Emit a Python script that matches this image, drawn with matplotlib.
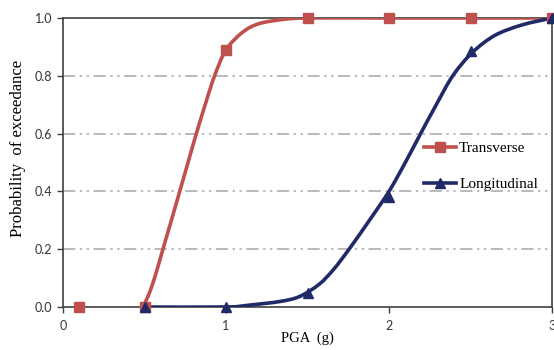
import matplotlib
matplotlib.use("Agg")
import matplotlib.pyplot as plt
from matplotlib.lines import Line2D
from matplotlib.path import Path
from matplotlib.patches import PathPatch

# data points (markers)
trans_x = [0.1, 0.5, 1.0, 1.5, 2.0, 2.5, 3.0]
trans_y = [0.0, 0.0, 0.89, 1.0, 1.0, 1.0, 1.0]
long_x = [0.5, 1.0, 1.5, 2.0, 2.5, 3.0]
long_y = [0.0, 0.0, 0.05, 0.38, 0.885, 1.0]

# fitted curves
trans_cx = [0.49, 0.52, 0.55, 0.58, 0.613, 0.665, 0.716, 0.767, 0.818, 0.875, 0.93, 1.0, 1.1, 1.2, 1.35, 1.5, 2.0, 3.0]
trans_cy = [0.0, 0.035, 0.08, 0.135, 0.2, 0.3, 0.4, 0.5, 0.6, 0.705, 0.8, 0.89, 0.95, 0.98, 0.995, 1.0, 1.0, 1.0]
long_cx = [0.5, 1.0, 1.15, 1.33, 1.45, 1.57, 1.66, 1.755, 1.88, 2.0, 2.1, 2.194, 2.29, 2.391, 2.51, 2.65, 2.816, 3.0]
long_cy = [0.0, 0.0, 0.007, 0.019, 0.036, 0.078, 0.13, 0.2, 0.3, 0.4, 0.5, 0.6, 0.7, 0.8, 0.88, 0.94, 0.976, 1.0]

red = '#C0504D'
navy = '#1F2A66'
serif = 'Liberation Serif'


def smooth_path(xs, ys, k=0.16):
    # bezier path through the points (like a spreadsheet "smoothed line")
    verts = [(xs[0], ys[0])]
    codes = [Path.MOVETO]
    n = len(xs)
    for i in range(n - 1):
        x0, y0 = xs[max(i - 1, 0)], ys[max(i - 1, 0)]
        x1, y1 = xs[i], ys[i]
        x2, y2 = xs[i + 1], ys[i + 1]
        x3, y3 = xs[min(i + 2, n - 1)], ys[min(i + 2, n - 1)]
        c1 = (x1 + (x2 - x0) * k, y1 + (y2 - y0) * k)
        c2 = (x2 - (x3 - x1) * k, y2 - (y3 - y1) * k)
        verts += [c1, c2, (x2, y2)]
        codes += [Path.CURVE4] * 3
    return Path(verts, codes)


fig = plt.figure(figsize=(5.54, 3.5), dpi=100)
ax = fig.add_axes([63/554, 1-307/350, (552-63)/554, (307-18)/350])

ax.add_patch(PathPatch(smooth_path(trans_cx, trans_cy), fc='none', ec=red, lw=2.6,
                       capstyle='round', zorder=3))
ax.add_patch(PathPatch(smooth_path(long_cx, long_cy), fc='none', ec=navy, lw=2.6,
                       capstyle='round', zorder=3))
ax.plot(trans_x, trans_y, ls='none', marker='s', ms=7.5, color=red, zorder=4, clip_on=False)
ax.plot(long_x, long_y, ls='none', marker='^', ms=7.5, color=navy, zorder=4, clip_on=False)

ax.set_xlim(0, 3)
ax.set_ylim(0, 1)
ax.set_xticks([0, 1, 2, 3])
ax.set_yticks([0, 0.2, 0.4, 0.6, 0.8, 1.0])
ax.set_yticklabels(['0.0', '0.2', '0.4', '0.6', '0.8', '1.0'])
for t in ax.get_xticklabels() + ax.get_yticklabels():
    t.set_fontfamily('Lato')
    t.set_fontsize(9)
    t.set_color('#333333')
ax.tick_params(axis='both', direction='out', length=4, width=1, color='#404040')
ax.tick_params(axis='x', pad=5)

for y in [0.2, 0.4, 0.6, 0.8]:
    ax.axhline(y, color='#A6A6A6', lw=1.1, ls=(0, (8, 3, 1.5, 3, 1.5, 3)), zorder=1)
for s in ['left', 'bottom', 'top', 'right']:
    ax.spines[s].set_color('#404040')
    ax.spines[s].set_linewidth(1.2)

ax.set_xlabel('PGA  (g)', family=serif, fontsize=10.5, labelpad=0)
ax.set_ylabel('Probability  of exceedance', family=serif, fontsize=12)
ax.yaxis.set_label_coords(-0.075, 0.55)

handles = [Line2D([], [], color=red, lw=2.6, marker='s', ms=7),
           Line2D([], [], color=navy, lw=2.6, marker='^', ms=7)]
ax.legend(handles, ['Transverse', 'Longitudinal'], loc='upper left',
          bbox_to_anchor=(0.71, 0.62), frameon=False, handlelength=2.1,
          handletextpad=0.2, labelspacing=1.45, prop={'family': serif, 'size': 11})

fig.savefig('out.png', dpi=100)
